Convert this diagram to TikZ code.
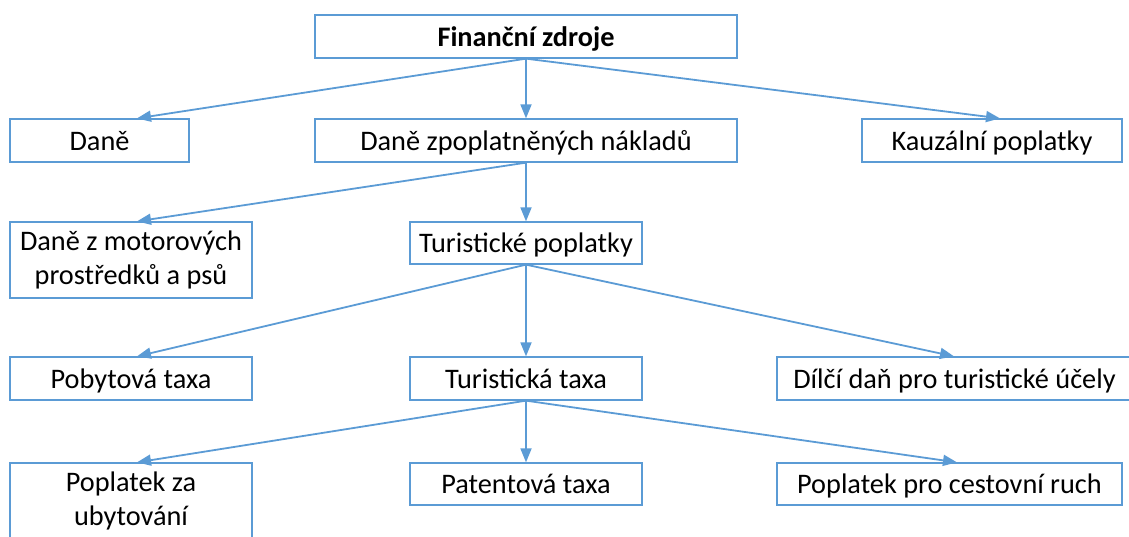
\documentclass[tikz,border=0pt]{standalone}
\usepackage{fontspec}
\setmainfont{Carlito}
\usetikzlibrary{arrows.meta}
\definecolor{lineblue}{RGB}{91,155,213}
\tikzset{
  box/.style={draw=lineblue, line width=1.3pt, fill=white, minimum width=#1, minimum height=43pt,
    inner sep=0pt, align=center, font=\fontsize{28.3}{34}\selectfont},
  one/.style={text height=20pt, text depth=1pt},
  arr/.style={draw=lineblue, line width=1.8pt, -{Triangle[length=14pt,width=11pt]}}
}
\begin{document}
\begin{tikzpicture}[x=1pt,y=-1pt]
\useasboundingbox (0,0) rectangle (1129,536);
\clip (0,0) rectangle (1129,536);
% nodes
\node[box=422pt, one] (fin) at (526,36.5) {\textbf{Finanční zdroje}};
\node[box=179pt, one] (dane) at (99.5,140.5) {Daně};
\node[box=422pt, one] (dzn) at (526,140.5) {Daně zpoplatněných nákladů};
\node[box=260pt, one] (kauz) at (992,140.5) {Kauzální poplatky};
\node[box=242pt, minimum height=76pt] (dmot) at (131,260) {Daně z motorových\\prostředků a psů};
\node[box=232pt, minimum height=42pt, one] (turpop) at (526,243) {Turistické poplatky};
\node[box=242pt, one] (pob) at (131,378.5) {Pobytová taxa};
\node[box=232pt, one] (turtax) at (526,378.5) {Turistická taxa};
\node[box=355pt, one] (dilci) at (954.5,378.5) {Dílčí daň pro turistické účely};
\node[box=242pt, minimum height=76pt] (ubyt) at (131,501) {Poplatek za\\ubytování};
\node[box=232pt, minimum height=42pt, one] (pat) at (526,484) {Patentová taxa};
\node[box=345pt, minimum height=42pt, one] (cest) at (949.5,484) {Poplatek pro cestovní ruch};
% tip x-positions
\coordinate (xL) at (137,0);
\coordinate (xK) at (1000,0);
\coordinate (xD) at (954,0);
\coordinate (xC) at (957,0);
% connectors
\draw[arr] (fin.south) -- (dane.north -| xL);
\draw[arr] (fin.south) -- (dzn.north);
\draw[arr] (fin.south) -- (kauz.north -| xK);
\draw[arr] (dzn.south) -- (dmot.north -| xL);
\draw[arr] (dzn.south) -- (turpop.north);
\draw[arr] (turpop.south) -- (pob.north -| xL);
\draw[arr] (turpop.south) -- (turtax.north);
\draw[arr] (turpop.south) -- (dilci.north -| xD);
\draw[arr] (turtax.south) -- (ubyt.north -| xL);
\draw[arr] (turtax.south) -- (pat.north);
\draw[arr] (turtax.south) -- (cest.north -| xC);
\end{tikzpicture}
\end{document}
